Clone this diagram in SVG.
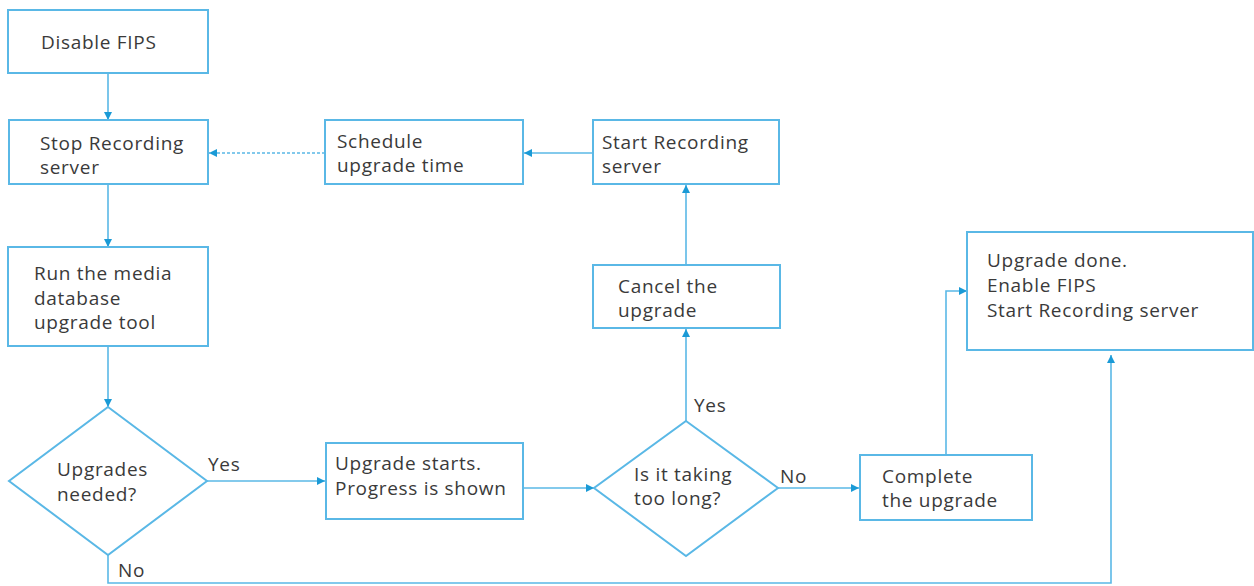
<svg xmlns="http://www.w3.org/2000/svg" width="1254" height="586" viewBox="0 0 1254 586">
<defs>
<style>
.box{fill:#fff;stroke:#5ab8e6;stroke-width:2}
.ln{fill:none;stroke:#5ab8e6;stroke-width:1.6}
.dash{stroke-dasharray:3 2}
text{font-family:"Open Sans","Liberation Sans",sans-serif;font-size:19px;letter-spacing:0.7px;fill:#3a3a3a}
</style>
<marker id="ah" viewBox="0 0 10 10" refX="10" refY="5" markerWidth="8" markerHeight="8" markerUnits="userSpaceOnUse" orient="auto">
<path d="M0,0 L10,5 L0,10 z" fill="#1a9ad6"/>
</marker>
</defs>
<rect width="1254" height="586" fill="#fff"/>
<g id="connectors">
<line class="ln" x1="108" y1="73" x2="108" y2="120" marker-end="url(#ah)"/>
<line class="ln" x1="108" y1="184" x2="108" y2="247" marker-end="url(#ah)"/>
<line class="ln" x1="108" y1="346" x2="108" y2="407" marker-end="url(#ah)"/>
<line class="ln dash" x1="325" y1="153" x2="209" y2="153" marker-end="url(#ah)"/>
<line class="ln" x1="593" y1="153" x2="524" y2="153" marker-end="url(#ah)"/>
<line class="ln" x1="207" y1="481" x2="325" y2="481" marker-end="url(#ah)"/>
<line class="ln" x1="524" y1="488" x2="594" y2="488" marker-end="url(#ah)"/>
<line class="ln" x1="686" y1="421" x2="686" y2="329" marker-end="url(#ah)"/>
<line class="ln" x1="686" y1="265" x2="686" y2="185" marker-end="url(#ah)"/>
<line class="ln" x1="778" y1="488" x2="859" y2="488" marker-end="url(#ah)"/>
<polyline class="ln" points="946,455 946,291 967,291" marker-end="url(#ah)"/>
<polyline class="ln" points="108,555 108,583 1111,583 1111,355" marker-end="url(#ah)"/>
<text x="208" y="471">Yes</text>
<text x="118" y="577">No</text>
<text x="694" y="412">Yes</text>
<text x="780" y="483">No</text>
</g>
<g id="disable-fips">
<rect class="box" x="8" y="10" width="200" height="63"/>
<text x="41" y="49">Disable FIPS</text>
</g>
<g id="stop-recording">
<rect class="box" x="9" y="120" width="199" height="64"/>
<text x="40" y="150">Stop Recording</text>
<text x="40" y="174">server</text>
</g>
<g id="schedule">
<rect class="box" x="325" y="120" width="198" height="64"/>
<text x="337" y="148">Schedule</text>
<text x="337" y="172">upgrade time</text>
</g>
<g id="start-recording">
<rect class="box" x="593" y="120" width="186" height="64"/>
<text x="602" y="149">Start Recording</text>
<text x="602" y="173">server</text>
</g>
<g id="run-tool">
<rect class="box" x="8" y="247" width="200" height="99"/>
<text x="34" y="280">Run the media</text>
<text x="34" y="305">database</text>
<text x="34" y="329">upgrade tool</text>
</g>
<g id="upgrades-needed">
<polygon class="box" points="108,407 207,481 108,555 9,481"/>
<text x="57" y="476">Upgrades</text>
<text x="57" y="501">needed?</text>
</g>
<g id="upgrade-starts">
<rect class="box" x="326" y="443" width="197" height="76"/>
<text x="335" y="470">Upgrade starts.</text>
<text x="335" y="495">Progress is shown</text>
</g>
<g id="taking-too-long">
<polygon class="box" points="686,421 778,488 686,556 594,488"/>
<text x="634" y="481">Is it taking</text>
<text x="634" y="505">too long?</text>
</g>
<g id="cancel">
<rect class="box" x="593" y="265" width="187" height="63"/>
<text x="618" y="293">Cancel the</text>
<text x="618" y="317">upgrade</text>
</g>
<g id="complete">
<rect class="box" x="860" y="455" width="172" height="65"/>
<text x="882" y="483">Complete</text>
<text x="882" y="507">the upgrade</text>
</g>
<g id="upgrade-done">
<rect class="box" x="967" y="232" width="286" height="118"/>
<text x="987" y="267">Upgrade done.</text>
<text x="987" y="292">Enable FIPS</text>
<text x="987" y="317">Start Recording server</text>
</g>
</svg>
